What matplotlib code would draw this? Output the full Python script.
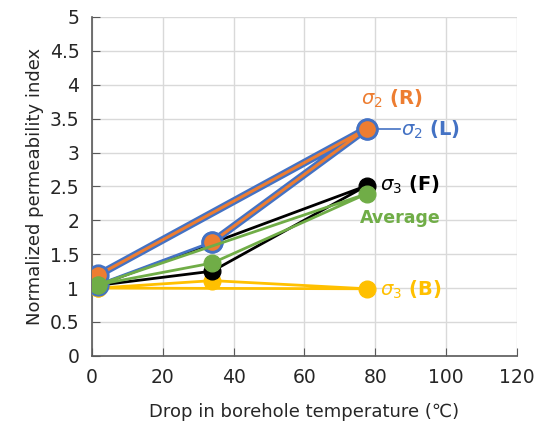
import matplotlib
matplotlib.use("Agg")
import matplotlib.pyplot as plt

# Data
temp_drop = [1.7, 34, 77.5]
sigma2_R = [1.19, 1.68, 3.35]
sigma2_L = [1.05, 1.68, 3.35]
sigma3_F = [1.04, 1.25, 2.51]
average = [1.05, 1.37, 2.39]
sigma3_B = [1.00, 1.11, 0.99]

x_ticks = [0, 20, 40, 60, 80, 100, 120]
y_ticks = [0, 0.5, 1, 1.5, 2, 2.5, 3, 3.5, 4, 4.5, 5]

orange = "#ED7D31"
blue = "#4472C4"
green = "#70AD47"
gold = "#FFC000"


def closed(v):
    return list(v) + [v[0]]


fig = plt.figure(figsize=(5.37, 4.34), dpi=100)
ax = fig.add_axes([0.171, 0.18, 0.792, 0.781])

xs = closed(temp_drop)
# sigma3 (B)
ax.plot(xs, closed(sigma3_B), color=gold, lw=2, marker="o", ms=12,
        mfc=gold, mec=gold, zorder=3)
# sigma3 (F)
ax.plot(xs, closed(sigma3_F), color="black", lw=2, marker="o", ms=12,
        mfc="black", mec="black", zorder=3.1)
# sigma2 (L): left -> middle -> right
ax.plot(temp_drop, sigma2_L, color=blue, lw=2, marker="o", ms=15,
        mfc=blue, mec=blue, zorder=3.5)
# sigma2 (R): middle -> right -> left, orange with blue outline
r_x = [temp_drop[1], temp_drop[2], temp_drop[0]]
r_y = [sigma2_R[1], sigma2_R[2], sigma2_R[0]]
ax.plot(r_x, r_y, color=blue, lw=5.5, zorder=4, solid_capstyle="round")
ax.plot(r_x, r_y, color=orange, lw=2.2, marker="o", ms=14,
        mfc=orange, mec=blue, mew=2, zorder=4.1)
# average
ax.plot(xs, closed(average), color=green, lw=2, marker="o", ms=12,
        mfc=green, mec=green, zorder=5)

# labels
ax.text(76, 3.79, r"$\sigma_2$ (R)", color=orange, fontsize=14,
        fontweight="bold", ha="left", va="center")
ax.plot([temp_drop[2] + 2, 87], [sigma2_R[2], sigma2_R[2]], color=blue,
        lw=1.2, zorder=2)
ax.text(87.3, 3.33, r"$\sigma_2$ (L)", color=blue, fontsize=14,
        fontweight="bold", ha="left", va="center")
ax.text(81.3, 2.52, r"$\sigma_3$ (F)", color="black", fontsize=14,
        fontweight="bold", ha="left", va="center")
ax.text(75.7, 2.04, "Average", color=green, fontsize=12.5,
        fontweight="bold", ha="left", va="center")
ax.text(81.3, 0.98, r"$\sigma_3$ (B)", color=gold, fontsize=14,
        fontweight="bold", ha="left", va="center")

ax.set_xlim(0, 120)
ax.set_ylim(0, 5)
ax.set_xticks(x_ticks)
ax.set_yticks(y_ticks)
ax.set_yticklabels([f"{v:g}" for v in y_ticks])
ax.tick_params(labelsize=13.5, direction="in", length=6, color="#595959",
               labelcolor="#262626", pad=9)
ax.grid(True, color="#D9D9D9", lw=1)
ax.set_axisbelow(True)
for s in ["top", "right"]:
    ax.spines[s].set_visible(False)
for s in ["left", "bottom"]:
    ax.spines[s].set_color("#595959")
    ax.spines[s].set_linewidth(1.2)

ax.set_xlabel("Drop in borehole temperature (℃)", fontsize=13,
              color="#262626", labelpad=11)
ax.set_ylabel("Normalized permeability index", fontsize=13,
              color="#262626", labelpad=4)

fig.savefig("out.png", dpi=100)
